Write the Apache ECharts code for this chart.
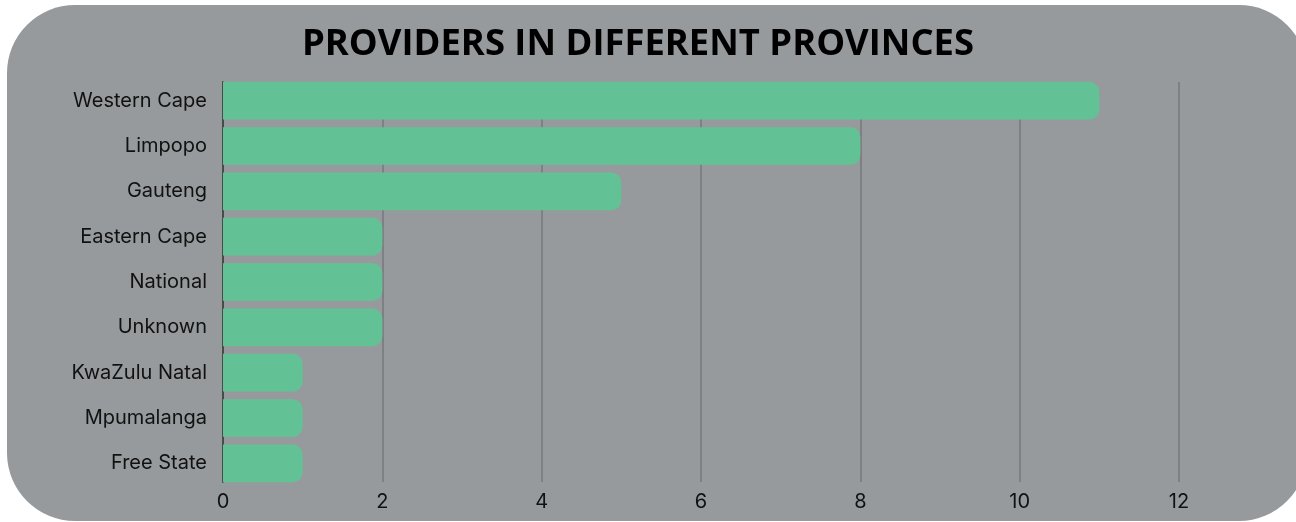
<!DOCTYPE html>
<html>
<head>
<meta charset="utf-8">
<style>
  html, body { margin: 0; padding: 0; background: #ffffff; }
  #main { width: 1296px; height: 522px; }
</style>
<script src="https://cdn.jsdelivr.net/npm/echarts@6/dist/echarts.min.js"></script>
</head>
<body>
<div id="main"></div>
<script>
var provinces = ['Western Cape', 'Limpopo', 'Gauteng', 'Eastern Cape', 'National', 'Unknown', 'KwaZulu Natal', 'Mpumalanga', 'Free State'];
var providerCounts = [11, 8, 5, 2, 2, 2, 1, 1, 1];
var xTicks = [0, 2, 4, 6, 8, 10, 12];

var myChart = echarts.init(document.getElementById('main'));

var option = {
  backgroundColor: '#ffffff',
  // 圆角灰色背景
  graphic: [{
    type: 'rect',
    z: -10,
    shape: { x: 7, y: 5, width: 1300, height: 516, r: 68 },
    style: { fill: '#979a9d' }
  }],
  title: {
    text: 'PROVIDERS IN DIFFERENT PROVINCES',
    left: 297,
    top: 22,
    textStyle: {
      fontFamily: 'Open Sans',
      fontWeight: 'bold',
      fontSize: 36.4,
      color: '#000000'
    }
  },
  // grid 0: 柱子; grid 1: 网格线和x轴文字
  grid: [
    { left: 223, right: 117, top: 78, bottom: 36 },
    { left: 223, right: 117, top: 82, bottom: 40 }
  ],
  xAxis: [{
    type: 'value',
    gridIndex: 0,
    min: xTicks[0],
    max: xTicks[xTicks.length - 1],
    interval: 2,
    axisLine: { show: false },
    axisTick: { show: false },
    axisLabel: { show: false },
    splitLine: { show: false }
  }, {
    type: 'value',
    gridIndex: 1,
    min: xTicks[0],
    max: xTicks[xTicks.length - 1],
    interval: 2,
    axisLine: { show: false },
    axisTick: { show: false },
    axisLabel: {
      color: '#111111',
      fontFamily: 'Inter',
      fontSize: 20,
      margin: 10
    },
    splitLine: {
      lineStyle: { color: '#75787b', width: 1.5 }
    }
  }],
  yAxis: [{
    type: 'category',
    gridIndex: 0,
    inverse: true,
    data: provinces,
    axisLine: { show: false },
    axisTick: { show: false },
    axisLabel: {
      color: '#111111',
      fontFamily: 'Inter',
      fontSize: 20,
      margin: 16
    }
  }, {
    type: 'value',
    gridIndex: 1,
    axisLine: {
      show: true,
      lineStyle: { color: '#4a4a4a', width: 2 }
    },
    axisTick: { show: false },
    axisLabel: { show: false },
    splitLine: { show: false }
  }],
  series: [{
    type: 'bar',
    xAxisIndex: 0,
    yAxisIndex: 0,
    data: providerCounts,
    barCategoryGap: '17%',
    itemStyle: {
      color: '#63c295',
      borderRadius: [0, 10, 10, 0]
    }
  }]
};

myChart.setOption(option);
</script>
</body>
</html>
